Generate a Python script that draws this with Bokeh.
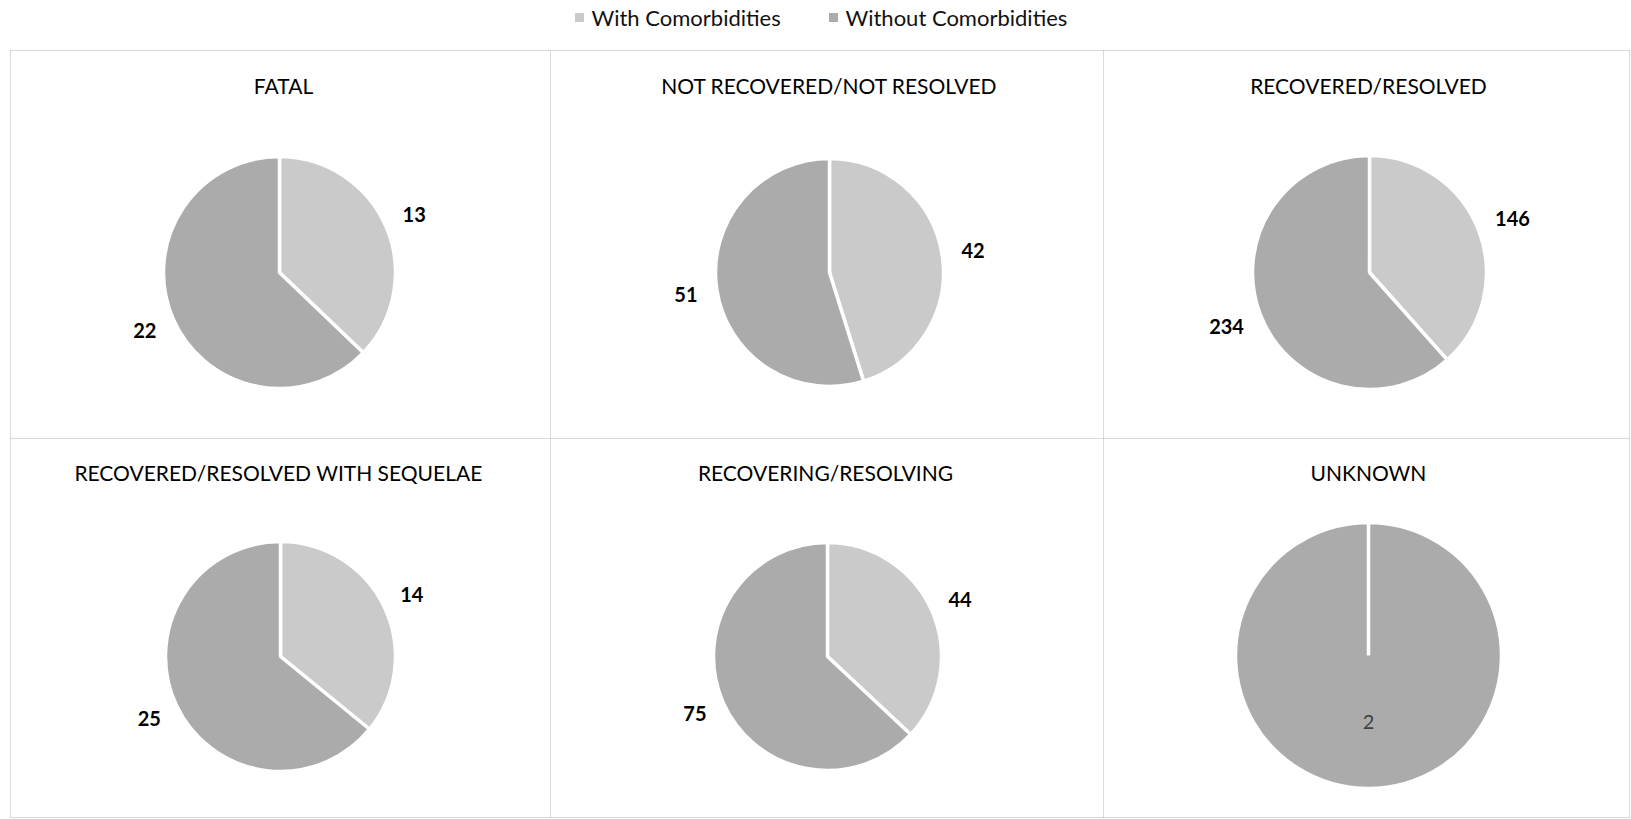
import math
from bokeh.plotting import figure
from bokeh.models import ColumnDataSource, Range1d
from bokeh.core.properties import value
from bokeh.embed import file_html
from bokeh.resources import INLINE

# ---- data ----
outcomes = ["FATAL", "NOT RECOVERED/NOT RESOLVED", "RECOVERED/RESOLVED",
            "RECOVERED/RESOLVED WITH SEQUELAE", "RECOVERING/RESOLVING", "UNKNOWN"]
series = ["With Comorbidities", "Without Comorbidities"]
with_comorbidities = [13, 42, 146, 14, 44, 0]
without_comorbidities = [22, 51, 234, 25, 75, 2]

# ---- style / layout ----
colors = ["#cacaca", "#ababab"]
W, H = 1631, 819
FONT = "Lato"

def X(rx):  # reference pixel x -> data x
    return rx

def Y(ry):  # reference pixel y -> data y
    return H - ry

centers = [(279, 272), (829, 272), (1369, 272), (280, 656), (827, 656), (1368, 655)]
radii = [116, 114, 117, 115, 114, 133]
title_pos = [(283, 85), (829, 85), (1368, 85), (278, 472), (825, 472), (1368, 472)]

p = figure(width=W, height=H, x_range=Range1d(0, W), y_range=Range1d(0, H),
           output_backend="svg", toolbar_location=None, min_border=0,
           x_axis_location=None, y_axis_location=None)
p.grid.visible = False
p.outline_line_color = None
p.background_fill_color = "white"
p.border_fill_color = "white"

# panel borders
x_left, x_d1, x_d2, x_right = X(10), X(550), X(1103), X(1629)
y_top, y_mid, y_bot = Y(50), Y(438), Y(817)
hx0 = [x_left, x_left, x_left, x_left, x_d1, x_d2, x_right]
hx1 = [x_right, x_right, x_right, x_left, x_d1, x_d2, x_right]
hy0 = [y_top, y_mid, y_bot, y_top, y_top, y_top, y_top]
hy1 = [y_top, y_mid, y_bot, y_bot, y_bot, y_bot, y_bot]
p.segment(x0=hx0, y0=hy0, x1=hx1, y1=hy1, line_color="#b4b4b4",
          line_width=1, line_dash="1 1")

# wedges
wx, wy, wr, ws, we, wc = [], [], [], [], [], []
lx, ly, lt, lbold = [], [], [], []
for i in range(len(outcomes)):
    vals = [with_comorbidities[i], without_comorbidities[i]]
    total = sum(vals)
    cx, cy = X(centers[i][0]), Y(centers[i][1])
    R = radii[i]
    ang = math.pi / 2
    for k, v in enumerate(vals):
        if v == 0:
            continue
        sweep = min(2 * math.pi * v / total, 2 * math.pi - 1e-4)
        wx.append(cx); wy.append(cy); wr.append(R)
        ws.append(ang); we.append(ang - sweep); wc.append(colors[k])
        mid = ang - sweep / 2
        label = str(v)
        if v == total:
            r_lab = 0.5 * R
            lbold.append(False)
        else:
            half_w = 0.3 * 19 * len(label)
            r_lab = R + 20 + half_w * abs(math.cos(mid))
            lbold.append(True)
        lx.append(cx + r_lab * math.cos(mid))
        ly.append(cy + r_lab * math.sin(mid))
        lt.append(label)
        ang -= sweep

src = ColumnDataSource(dict(x=wx, y=wy, r=wr, s=ws, e=we, c=wc))
p.wedge(x="x", y="y", radius="r", start_angle="s", end_angle="e",
        direction="clock", fill_color="c", line_color="white", line_width=3.5,
        source=src)

# data labels
bx = [x for x, b in zip(lx, lbold) if b]
by = [y for y, b in zip(ly, lbold) if b]
bt = [t for t, b in zip(lt, lbold) if b]
p.text(x=bx, y=by, text=bt, text_font=value(FONT), text_font_style="bold",
       text_font_size="20px", text_color="black", text_align="center",
       text_baseline="middle")
nx = [x for x, b in zip(lx, lbold) if not b]
ny = [y for y, b in zip(ly, lbold) if not b]
nt = [t for t, b in zip(lt, lbold) if not b]
p.text(x=nx, y=ny, text=nt, text_font=value(FONT), text_font_size="20px",
       text_color="#404040", text_align="center", text_baseline="middle")

# titles
p.text(x=[X(t[0]) for t in title_pos], y=[Y(t[1]) for t in title_pos], text=outcomes,
       text_font=value(FONT), text_font_size="21px", text_color="black",
       text_align="center", text_baseline="middle")

# legend
leg_x = [X(579), X(833)]
leg_y = [Y(17), Y(17)]
p.rect(x=leg_x, y=leg_y, width=9, height=9, fill_color=colors, line_color=None)
p.text(x=[X(591), X(845)], y=leg_y, text=series, text_font=value(FONT),
       text_font_size="22px", text_color="#111111", text_align="left",
       text_baseline="middle")

open("out.html", "w").write(file_html(p, INLINE))
